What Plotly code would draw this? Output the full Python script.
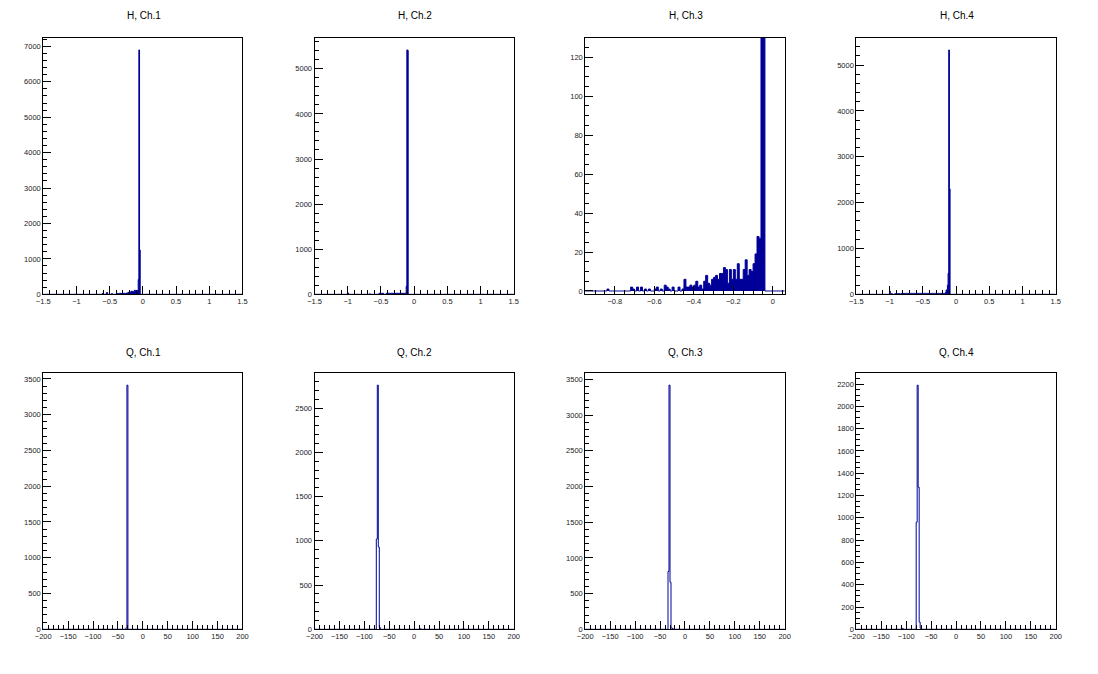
import numpy as np
import plotly.graph_objects as go

BLUE = "#000099"
FONT = "Liberation Sans, Arial, Helvetica, sans-serif"

# ---------------- binning ----------------
H_LO, H_HI, H_BIN = -1.5, 1.5, 0.01
Q_LO, Q_HI, Q_BIN = -200.0, 200.0, 2.0

# ---------------- data (counts per bin, starting at given lower edge) ----------------
titles = ["H, Ch.1", "H, Ch.2", "H, Ch.3", "H, Ch.4",
          "Q, Ch.1", "Q, Ch.2", "Q, Ch.3", "Q, Ch.4"]

h1_start = -0.61
h1_counts = [28, 0, 0, 0, 0, 0, 47, 47, 0, 0,
             0, 0, 0, 0, 20, 0, 0, 0, 0, 0,
             0, 0, 25, 25, 0, 28, 0, 28, 28, 0,
             28, 28, 28, 28, 0, 28, 37, 37, 37, 56,
             56, 56, 56, 84, 84, 84, 75, 75, 112, 100,
             112, 84, 100, 112, 420, 6900, 1250]

h2_start = -1.00
h2_counts = [30] + [0] * 32 + [12] + [0] * 13 + [22, 22, 22, 0, 22, 22, 22, 0, 0, 0, 0,
             22, 22, 22, 22, 22, 22, 22, 22, 22, 22,
             22, 22, 22, 22, 22, 22, 22, 22, 22, 22,
             22, 22, 22, 22, 22, 22, 22, 22, 22, 22,
             180, 5420, 5410]

h3_start = -0.95
h3_counts = [0, 0, 0, 0, 0, 0, 0, 0, 0, 0,
             0, 1, 0, 0, 0, 0, 0, 0, 0, 0,
             0, 0, 0, 2, 1, 0, 2, 0, 2, 0,
             1, 0, 1, 0, 0, 1, 2, 0, 1, 0,
             3, 2, 1, 0, 2, 0, 0, 2, 0, 1,
             6, 2, 2, 3, 2, 3, 5, 2, 3, 1,
             5, 8, 4, 3, 6, 7, 8, 6, 9, 9,
             12, 11, 4, 11, 6, 11, 6, 14, 6, 6,
             11, 16, 8, 11, 10, 14, 19, 28, 27, 3100,
             1800, 0]

h4_start = -1.00
h4_counts = [72, 0, 0, 15, 0, 0, 0, 0, 15, 0,
             0, 0, 15, 15, 15, 0, 0, 20, 20, 20,
             20, 0, 20, 20, 20, 20, 20, 20, 20, 20,
             20, 20, 20, 20, 20, 20, 20, 20, 20, 20,
             20, 20, 20, 20, 20, 20, 20, 20, 20, 20,
             20, 20, 20, 20, 20, 20, 20, 20, 20, 20,
             20, 20, 20, 20, 20, 20, 20, 20, 20, 20,
             20, 20, 20, 20, 20, 20, 20, 20, 20, 20,
             20, 20, 20, 20, 40, 95, 95, 200, 460, 5330,
             2300]

q1_start = -34.0
q1_counts = [20, 3413]

q2_start = -76.0
q2_counts = [1020, 2760, 930, 20]
q2_extra_edges = [12.0, 98.0]
q2_extra_counts = [5, 8]

q3_start = -34.0
q3_counts = [810, 3420, 660, 20, 12]

q4_start = -108.0
q4_counts = [8, 0, 0, 0, 0, 0, 0, 0, 0, 0,
             0, 0, 0, 0, 960, 2190, 1275, 65, 10]

# ---------------- axis settings ----------------
h_xrange = [H_LO, H_HI]
h3_xrange = [-0.95, 0.06]
q_xrange = [Q_LO, Q_HI]
y_ranges = [[0, 7245], [0, 5690], [-1.7, 130], [0, 5597],
            [0, 3584], [0, 2898], [0, 3591], [0, 2300]]
y_major = [1000, 1000, 20, 1000, 500, 500, 500, 200]
y_minor = [200, 200, 5, 200, 100, 100, 100, 50]
x_major = [0.5, 0.5, 0.2, 0.5, 50, 50, 50, 50]
x_minor = [0.1, 0.1, 0.05, 0.1, 10, 10, 10, 10]

# frame positions in pixels (canvas 1098 x 674)
W, H = 1098, 674
col_px = [(35.7, 237.5), (310.5, 512.3), (584.7, 786.7), (859.3, 1061.3)]
row_px = [(38.0, 296.5), (375.7, 634.0)]
pad_w = W / 4.0
title_y_px = [15.7, 355.0]


def full_hist(lo, hi, width, start, counts, extra_edges=(), extra_counts=()):
    n = int(round((hi - lo) / width))
    c = np.zeros(n)
    i0 = int(round((start - lo) / width))
    c[i0:i0 + len(counts)] = counts
    for e, v in zip(extra_edges, extra_counts):
        c[int(round((e - lo) / width))] = v
    edges = lo + width * np.arange(n + 1)
    xs = np.concatenate([[edges[0]], edges[:-1], [edges[-1]]])
    ys = np.concatenate([[0.0], c, [0.0]])
    return xs, ys


hists = [
    (H_LO, H_HI, H_BIN, h1_start, h1_counts, (), ()),
    (H_LO, H_HI, H_BIN, h2_start, h2_counts, (), ()),
    (H_LO, H_HI, H_BIN, h3_start, h3_counts, (), ()),
    (H_LO, H_HI, H_BIN, h4_start, h4_counts, (), ()),
    (Q_LO, Q_HI, Q_BIN, q1_start, q1_counts, (), ()),
    (Q_LO, Q_HI, Q_BIN, q2_start, q2_counts, q2_extra_edges, q2_extra_counts),
    (Q_LO, Q_HI, Q_BIN, q3_start, q3_counts, (), ()),
    (Q_LO, Q_HI, Q_BIN, q4_start, q4_counts, (), ()),
]

fig = go.Figure()
layout = {}
annotations = []
for i, (lo, hi, bw, st, cnt, ee, ec) in enumerate(hists):
    k = i + 1
    row, col = divmod(i, 4)
    xs, ys = full_hist(lo, hi, bw, st, cnt, ee, ec)
    filled = i < 4
    fig.add_trace(go.Scatter(
        x=xs, y=ys, mode="lines", line=dict(shape="hv", color=BLUE, width=1),
        fill="tozeroy" if filled else None,
        fillcolor=BLUE if filled else None,
        xaxis=f"x{k}", yaxis=f"y{k}", showlegend=False, hoverinfo="skip"))

    x0, x1 = col_px[col]
    y0, y1 = row_px[row]
    if i == 2:
        xr = h3_xrange
    elif i < 4:
        xr = h_xrange
    else:
        xr = q_xrange
    common = dict(showline=True, linecolor="black", linewidth=1, mirror=True,
                  ticks="inside", ticklen=8, tickwidth=1, tickcolor="black",
                  showgrid=False, zeroline=False,
                  tickfont=dict(family=FONT, size=7.5, color="#222222"))
    layout[f"xaxis{k}"] = dict(
        domain=[x0 / W, x1 / W], range=xr, anchor=f"y{k}",
        tick0=0, dtick=x_major[i],
        minor=dict(ticks="inside", ticklen=4, tickwidth=1, tickcolor="black",
                   dtick=x_minor[i], tick0=0, showgrid=False),
        **common)
    layout[f"yaxis{k}"] = dict(
        domain=[1 - y1 / H, 1 - y0 / H], range=y_ranges[i], anchor=f"x{k}",
        tick0=0, dtick=y_major[i],
        minor=dict(ticks="inside", ticklen=4, tickwidth=1, tickcolor="black",
                   dtick=y_minor[i], tick0=0, showgrid=False),
        **common)
    annotations.append(dict(
        text=titles[i], xref="paper", yref="paper",
        x=(col + 0.5) * pad_w / W, y=1 - title_y_px[row] / H,
        xanchor="center", yanchor="middle", showarrow=False,
        font=dict(family=FONT, size=10, color="black")))

fig.update_layout(
    width=W, height=H, margin=dict(l=0, r=0, t=0, b=0),
    paper_bgcolor="white", plot_bgcolor="white",
    annotations=annotations, **layout)

fig.write_html("out.html", config={"displayModeBar": False},
               post_script="document.body.style.margin='0px';")
